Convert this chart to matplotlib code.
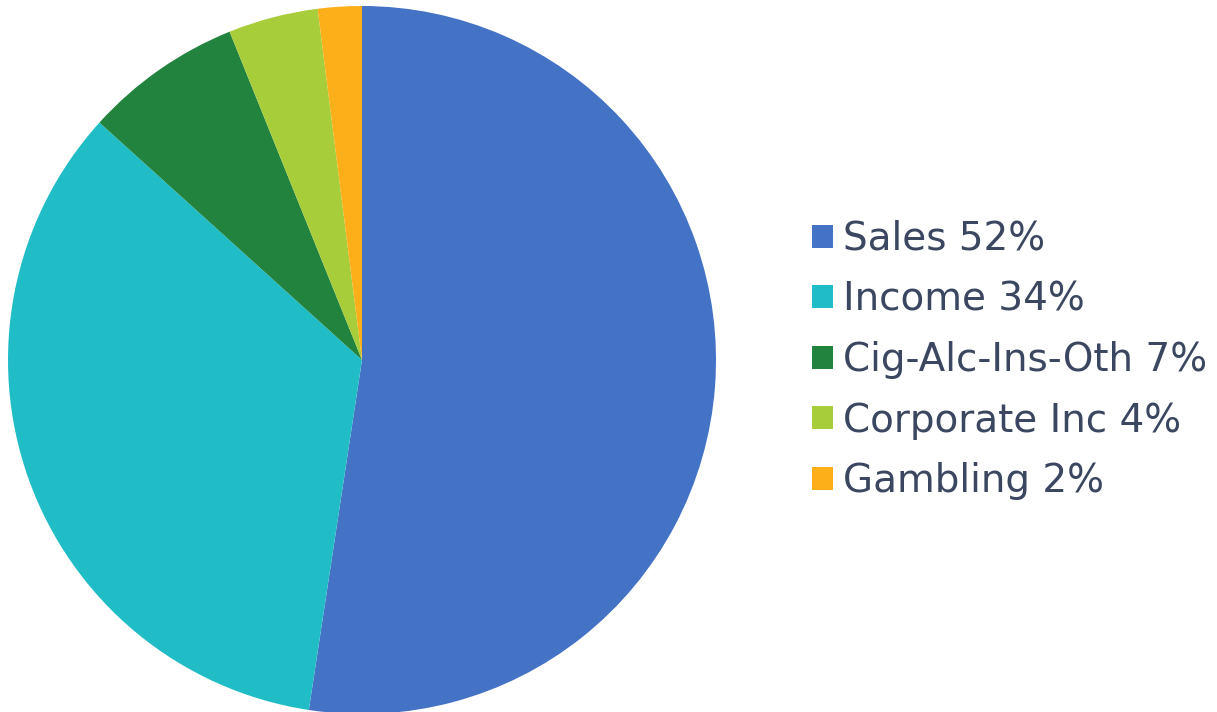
import matplotlib
matplotlib.use("Agg")
import matplotlib.pyplot as plt

categories = ["Sales", "Income", "Cig-Alc-Ins-Oth", "Corporate Inc", "Gambling"]
values = [52.4, 34.3, 7.2, 4.1, 2.0]
pct_labels = ["52%", "34%", "7%", "4%", "2%"]
colors = ["#4472C4", "#21BDC6", "#22833F", "#A8CD3A", "#FDAF1A"]

W, H = 1217, 712
fig = plt.figure(figsize=(W / 100, H / 100), dpi=100)
fig.patch.set_facecolor("white")

r = 354
cx, cy = 362, 360
ax = fig.add_axes([(cx - r) / W, (H - cy - r) / H, 2 * r / W, 2 * r / H])
wedges, _ = ax.pie(values, colors=colors, startangle=90, counterclock=False,
                   radius=1.0, wedgeprops=dict(linewidth=0))
ax.set_xlim(-1, 1)
ax.set_ylim(-1, 1)
ax.set_aspect("equal")
ax.axis("off")

labels = [f"{c} {p}" for c, p in zip(categories, pct_labels)]
leg = fig.legend(wedges, labels, loc="center left",
                 bbox_to_anchor=(812 / W, 1 - 360 / H),
                 frameon=False, fontsize=28, borderpad=0, borderaxespad=0,
                 handlelength=0.54, handleheight=0.54, handletextpad=0.26,
                 labelspacing=0.58)
for t in leg.get_texts():
    t.set_color("#3B4661")

fig.savefig("out.png", dpi=100, facecolor="white")
